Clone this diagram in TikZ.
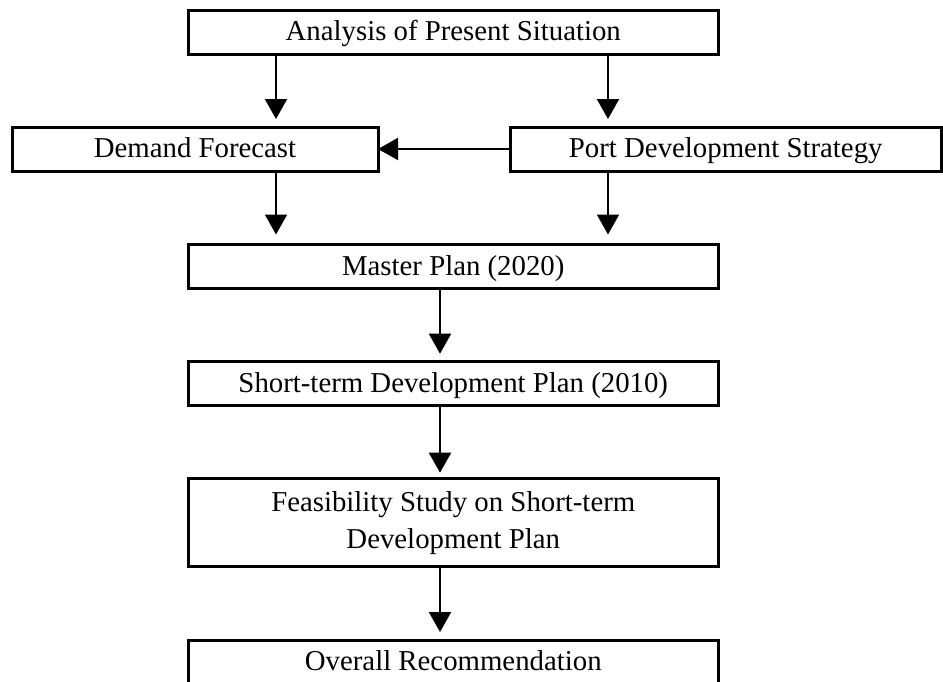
\documentclass[tikz,border=0pt]{standalone}
\usepackage{fontspec}
\setmainfont{Liberation Serif}
\usetikzlibrary{arrows.meta}

\begin{document}
\begin{tikzpicture}[x=0.5pt, y=-0.5pt,
    box/.style={rectangle, draw, line width=1.5pt, outer sep=0pt, minimum height=22pt, align=center, font=\fontsize{14.4}{18.5}\selectfont},
    stage/.style={box, text height=10pt, text depth=1.5pt},
    wide/.style={minimum width=264.75pt},
    arrow/.style={-{Triangle[width=11pt, length=10pt]}, line width=1pt}
]
    \useasboundingbox (0,0) rectangle (943,681);

    % Columns of the vertical arrows
    \coordinate (lcol) at (276,0);
    \coordinate (rcol) at (608,0);
    \coordinate (ccol) at (440,0);

    % Boxes
    \node[stage, wide] (analysis) at (453.25,32) {Analysis of Present Situation};
    \node[stage, minimum width=183pt] (demand) at (195,149) {Demand Forecast};
    \node[stage, minimum width=215.75pt] (strategy) at (725.75,149) {Port Development Strategy};
    \node[stage, wide] (master) at (453.25,266.5) {Master Plan (2020)};
    \node[stage, wide] (shortterm) at (453.25,383.7) {Short-term Development Plan (2010)};
    \node[box, wide, minimum height=44pt] (feasibility) at (453.25,522.7) {Feasibility Study on Short-term\\Development Plan};
    \node[stage, wide] (overall) at (453.25,662) {Overall Recommendation};

    % Arrows from the analysis
    \draw[arrow, shorten >=4pt] (analysis.south -| lcol) -- (demand.north -| lcol);
    \draw[arrow, shorten >=4pt] (analysis.south -| rcol) -- (strategy.north -| rcol);
    \draw[arrow] (strategy.west) -- (demand.east);

    % Arrows into the master plan
    \draw[arrow, shorten >=5pt] (demand.south -| lcol) -- (master.north -| lcol);
    \draw[arrow, shorten >=5pt] (strategy.south -| rcol) -- (master.north -| rcol);

    % Arrows down the middle
    \draw[arrow, shorten >=4pt] (master.south -| ccol) -- (shortterm.north -| ccol);
    \draw[arrow, shorten >=3pt] (shortterm.south -| ccol) -- (feasibility.north -| ccol);
    \draw[arrow, shorten >=4pt] (feasibility.south -| ccol) -- (overall.north -| ccol);
\end{tikzpicture}
\end{document}
